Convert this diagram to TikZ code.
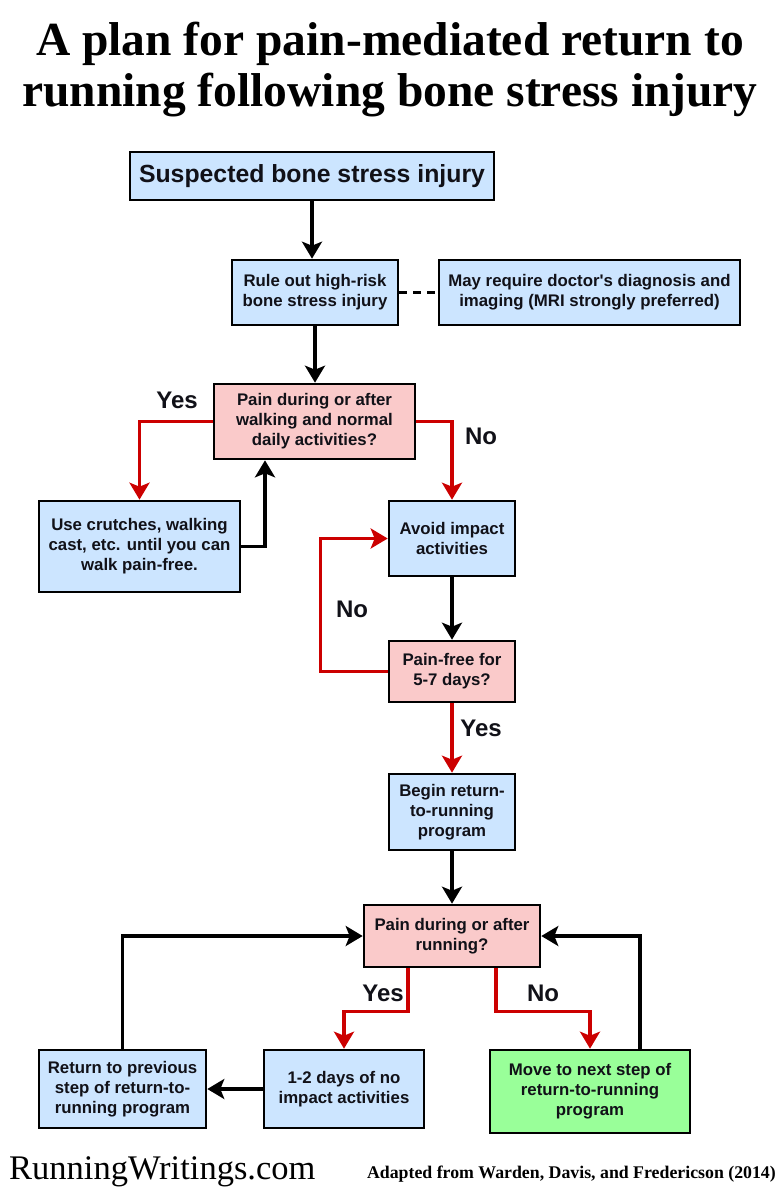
\documentclass[tikz,border=0pt]{standalone}
\usepackage{fontspec}
\setmainfont{Liberation Serif}
\setsansfont{Liberation Sans}
\usetikzlibrary{arrows.meta}
\definecolor{bluefill}{HTML}{CCE5FF}
\definecolor{pinkfill}{HTML}{FACACA}
\definecolor{greenfill}{HTML}{99FF99}
\definecolor{redline}{HTML}{CC0000}
\definecolor{ink}{HTML}{111118}
\tikzset{
  bbox/.style={draw=black, line width=2.6pt, inner sep=0pt, align=center, text=ink,
    font=\sffamily\bfseries\fontsize{16.8}{20}\selectfont},
  bluebox/.style={bbox, fill=bluefill},
  pinkbox/.style={bbox, fill=pinkfill},
  greenbox/.style={bbox, fill=greenfill},
  blk/.style={draw=black, line width=3.5pt, -{Stealth[length=17pt,width=20pt,inset=4pt]}},
  red/.style={draw=redline, line width=3.5pt, -{Stealth[length=17pt,width=20pt,inset=4pt]}},
  lbl/.style={font=\sffamily\bfseries\fontsize{24}{28}\selectfont, inner sep=0pt, text=ink},
  ttl/.style={font=\bfseries\fontsize{47.5}{54}\selectfont, inner sep=0pt}
}
\begin{document}
\begin{tikzpicture}[x=1pt,y=-1pt]
\useasboundingbox[fill=white] (0,0) rectangle (780,1200);
\node[ttl] (t1) at (390,44) {A plan for pain-mediated return to};
\node[ttl] (t2) at (390,95) {running following bone stress injury};

\node[bluebox, minimum width=364, minimum height=48, font=\sffamily\bfseries\fontsize{24.8}{28}\selectfont] (top) at (312,176) {Suspected bone stress injury};
\node[bluebox, minimum width=166, minimum height=65] (rule) at (315,292.5) {Rule out high-risk\\bone stress injury};
\node[bluebox, minimum width=301, minimum height=65] (may) at (589.5,292.5) {May require doctor\textquotesingle s diagnosis and\\imaging (MRI strongly preferred)};
\node[pinkbox, minimum width=201, minimum height=75] (painw) at (314.5,421.5) {Pain during or after\\walking and normal\\daily activities?};
\node[bluebox, minimum width=201, minimum height=91] (crutch) at (139.5,546.5) {Use crutches, walking\\cast, etc. until you can\\walk pain-free.};
\node[bluebox, minimum width=126, minimum height=75] (avoid) at (452,538.5) {Avoid impact\\activities};
\node[pinkbox, minimum width=126, minimum height=61] (painfree) at (452,671.5) {Pain-free for\\5-7 days?};
\node[bluebox, minimum width=126, minimum height=76] (begin) at (452,812) {Begin return-\\to-running\\program};
\node[pinkbox, minimum width=176, minimum height=62] (painrun) at (452,936) {Pain during or after\\running?};
\node[bluebox, minimum width=167, minimum height=78] (ret) at (122.5,1089) {Return to previous\\step of return-to-\\running program};
\node[bluebox, minimum width=160, minimum height=78] (oneday) at (344,1089) {1-2 days of no\\impact activities};
\node[greenbox, minimum width=200, minimum height=83] (green) at (590,1091.5) {Move to next step of\\return-to-running\\program};

\draw[blk] (top.south) -- (top.south |- rule.north);
\draw[draw=black, line width=2.2pt, dash pattern=on 8pt off 6pt] (rule.east) -- (may.west);
\draw[blk] (rule.south) -- (rule.south |- painw.north);
\draw[red] (painw.west) -| (crutch.north);
\draw[blk] (crutch.east) -| ([xshift=-49.5pt]painw.south);
\draw[red] (painw.east) -| (avoid.north);
\draw[blk] (avoid) -- (painfree);
\draw[red] (painfree.west) -- ++(-67,0) |- (avoid.west);
\draw[red] (painfree) -- (begin);
\draw[blk] (begin) -- (painrun);
\draw[blk] (ret.north) |- (painrun.west);
\draw[blk] ([xshift=50pt]green.north) |- (painrun.east);
\draw[red] ([xshift=-44pt]painrun.south) -- ++(0,43) -| (oneday.north);
\draw[red] ([xshift=44pt]painrun.south) -- ++(0,43) -| (green.north);
\draw[blk] (oneday.west) -- (ret.east);

\node[lbl] (y1) at (177,400) {Yes};
\node[lbl] (n1) at (481,436) {No};
\node[lbl] (n2) at (352,609) {No};
\node[lbl] (y2) at (481,728) {Yes};
\node[lbl] (y3) at (383,993) {Yes};
\node[lbl] (n3) at (543,993) {No};

\node[font=\fontsize{34.5}{38}\selectfont, inner sep=0pt, anchor=west] (site) at (9,1172) {RunningWritings.com};
\node[font=\bfseries\fontsize{17.8}{20}\selectfont, inner sep=0pt, anchor=east] (src) at (776,1174) {Adapted from Warden, Davis, and Fredericson (2014)};
\end{tikzpicture}
\end{document}
